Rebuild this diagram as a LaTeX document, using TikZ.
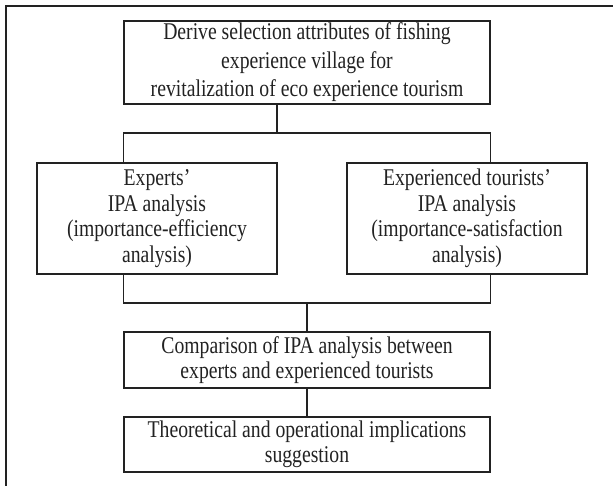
\documentclass[tikz,border=0pt]{standalone}
\usepackage{fontspec}
\setmainfont{Liberation Serif}[FakeStretch=0.82]
\definecolor{ink}{HTML}{222222}
\begin{document}
\begin{tikzpicture}[x=1pt,y=-1pt,
  box/.style={draw=ink,line width=1.1pt,rectangle,inner sep=0pt,align=center,text=ink,
    font=\fontsize{24}{25.5}\selectfont},
  conn/.style={draw=ink,line width=1.1pt}]
\useasboundingbox (0,0) rectangle (613,486);
\begin{scope}
\clip (0,0) rectangle (613,486);
\draw[ink,line width=2pt] (5.5,600) -- (5.5,6) -- (700,6);
\end{scope}
\node[box,minimum width=366pt,minimum height=83pt,font=\fontsize{24}{28.5}\selectfont] (top) at (307,62.5)
  {Derive selection attributes of fishing\\experience village for\\revitalization of eco experience tourism};
\node[box,minimum width=240pt,minimum height=111pt] (left) at (157,218.5)
  {Experts'\\IPA analysis\\(importance-efficiency\\analysis)};
\node[box,minimum width=240pt,minimum height=111pt] (right) at (467,218.5)
  {Experienced tourists'\\IPA analysis\\(importance-satisfaction\\analysis)};
\node[box,minimum width=366pt,minimum height=56pt] (comp) at (307,360)
  {Comparison of IPA analysis between\\experts and experienced tourists};
\node[box,minimum width=366pt,minimum height=55pt] (bot) at (307,444.5)
  {Theoretical and operational implications\\suggestion};
\coordinate (j1) at (277,133);
\coordinate (j2) at (307,303);
\draw[conn] (top.south -| j1) -- (j1);
\draw[conn] (top.south west |- left.north) -- (top.south west |- j1) -- (top.south east |- j1) -- (top.south east |- right.north);
\draw[conn] (top.south west |- left.south) -- (top.south west |- j2) -- (top.south east |- j2) -- (top.south east |- right.south);
\draw[conn] (j2) -- (comp.north);
\draw[conn] (comp.south) -- (bot.north);
\end{tikzpicture}
\end{document}
